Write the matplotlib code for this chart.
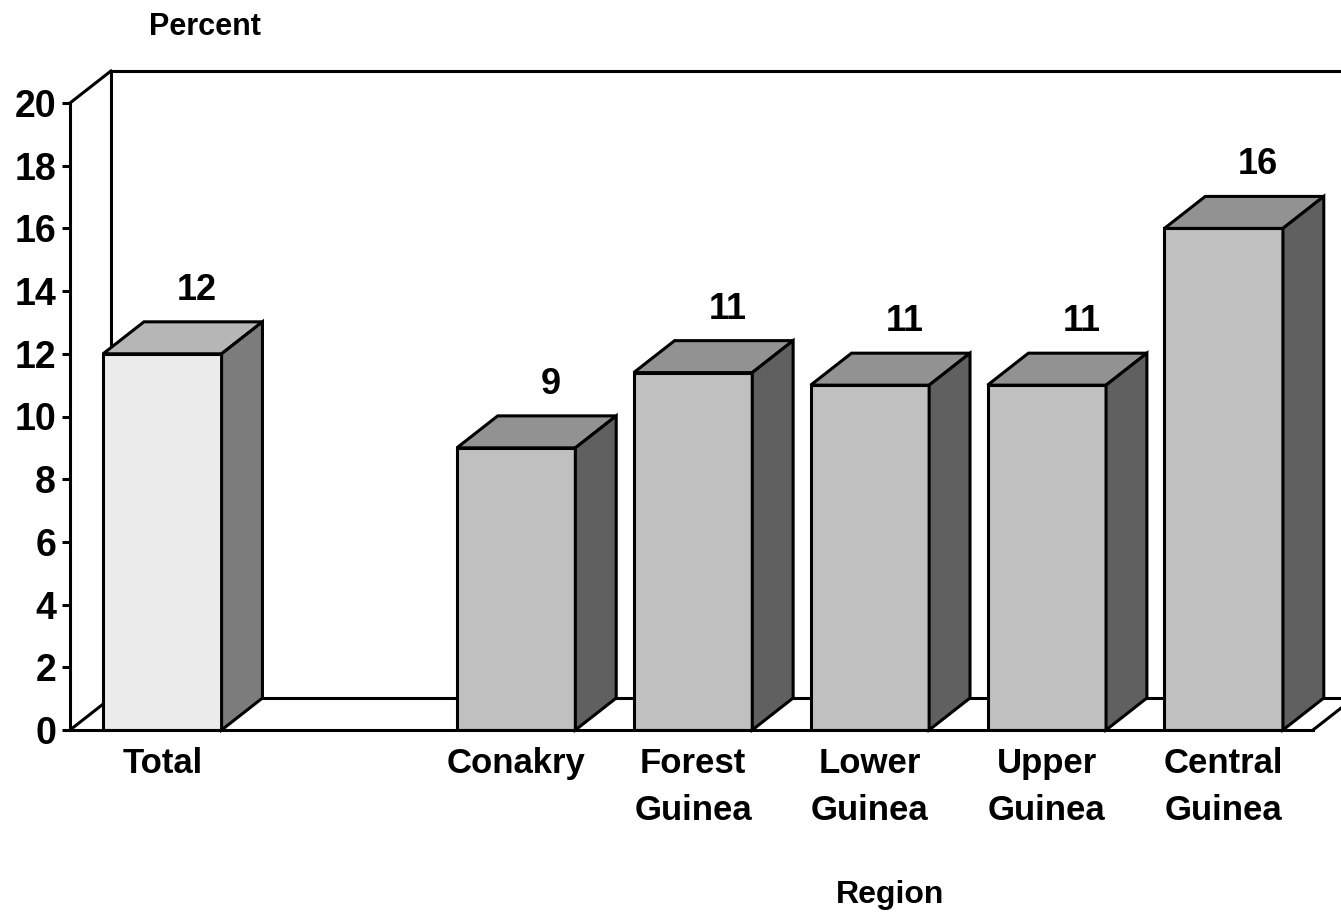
import matplotlib.pyplot as plt
from matplotlib.patches import Polygon

plt.rcParams['font.family'] = ['Liberation Sans', 'DejaVu Sans']
plt.rcParams['font.weight'] = 'bold'

# data
categories = ['Total', 'Conakry', 'Forest\nGuinea', 'Lower\nGuinea', 'Upper\nGuinea', 'Central\nGuinea']
positions = [0, 2, 3, 4, 5, 6]
values = [12, 9, 11.4, 11, 11, 16]
value_labels = ['12', '9', '11', '11', '11', '16']
yticks = [0, 2, 4, 6, 8, 10, 12, 14, 16, 18, 20]

# 3d look: depth offset in data units
dx = 0.231
dy = 1.02
width = 0.67
lw = 2.2

fig = plt.figure(figsize=(13.41, 9.18), dpi=100)
ax = fig.add_axes([70 / 1341, 188 / 918, 1243 / 1341, 627 / 918])
x_left, x_right = -0.522, 6.505
ax.set_xlim(x_left, x_right)
ax.set_ylim(0, 20)

# back wall and floor
ax.plot([x_left, x_left + dx], [0, dy], color='black', lw=lw, clip_on=False, zorder=1)
ax.plot([x_left, x_left + dx], [20, 20 + dy], color='black', lw=lw, clip_on=False, zorder=1)
ax.plot([x_left + dx, x_left + dx], [dy, 20 + dy], color='black', lw=lw, clip_on=False, zorder=1)
ax.plot([x_left + dx, x_right + 1], [20 + dy, 20 + dy], color='black', lw=lw, clip_on=False, zorder=1)
ax.plot([x_left + dx, x_right + 1], [dy, dy], color='black', lw=lw, clip_on=False, zorder=1)
ax.plot([x_right, x_right + dx], [0, dy], color='black', lw=lw, clip_on=False, zorder=1)

# bars
for i, (p, v) in enumerate(zip(positions, values)):
    if i == 0:
        front, top, side = '#ebebeb', '#b6b6b6', '#7c7c7c'
    else:
        front, top, side = '#c0c0c0', '#929292', '#606060'
    x0 = p - width / 2
    x1 = p + width / 2
    ax.bar(p, v, width=width, color=front, edgecolor='black', linewidth=lw, zorder=3 + i)
    ax.add_patch(Polygon([(x0, v), (x0 + dx, v + dy), (x1 + dx, v + dy), (x1, v)],
                         facecolor=top, edgecolor='black', linewidth=lw,
                         joinstyle='miter', zorder=3 + i, clip_on=False))
    ax.add_patch(Polygon([(x1, 0), (x1 + dx, dy), (x1 + dx, v + dy), (x1, v)],
                         facecolor=side, edgecolor='black', linewidth=lw,
                         joinstyle='miter', zorder=3 + i, clip_on=False))
    ax.text(p + dx / 2 + 0.08, v + dy + 0.7, value_labels[i], ha='center', va='baseline',
            fontsize=26, fontweight='bold', zorder=10)

# axes styling
for s in ['top', 'right']:
    ax.spines[s].set_visible(False)
ax.spines['left'].set_linewidth(lw)
ax.spines['bottom'].set_linewidth(lw)
ax.spines['bottom'].set_zorder(20)
ax.set_yticks(yticks)
ax.set_yticklabels([str(t) for t in yticks], fontsize=27, fontweight='bold')
ax.tick_params(axis='y', length=6, width=lw, pad=4)
ax.set_xticks(positions)
ax.set_xticklabels(categories, fontsize=25, fontweight='bold', linespacing=1.55)
ax.tick_params(axis='x', length=0, pad=12)

fig.text(205 / 1341, 1 - 27 / 918, 'Percent', ha='center', va='center', fontsize=22, fontweight='bold')
fig.text(890 / 1341, 1 - 895 / 918, 'Region', ha='center', va='center', fontsize=23, fontweight='bold')

plt.savefig('out.png', dpi=100)
